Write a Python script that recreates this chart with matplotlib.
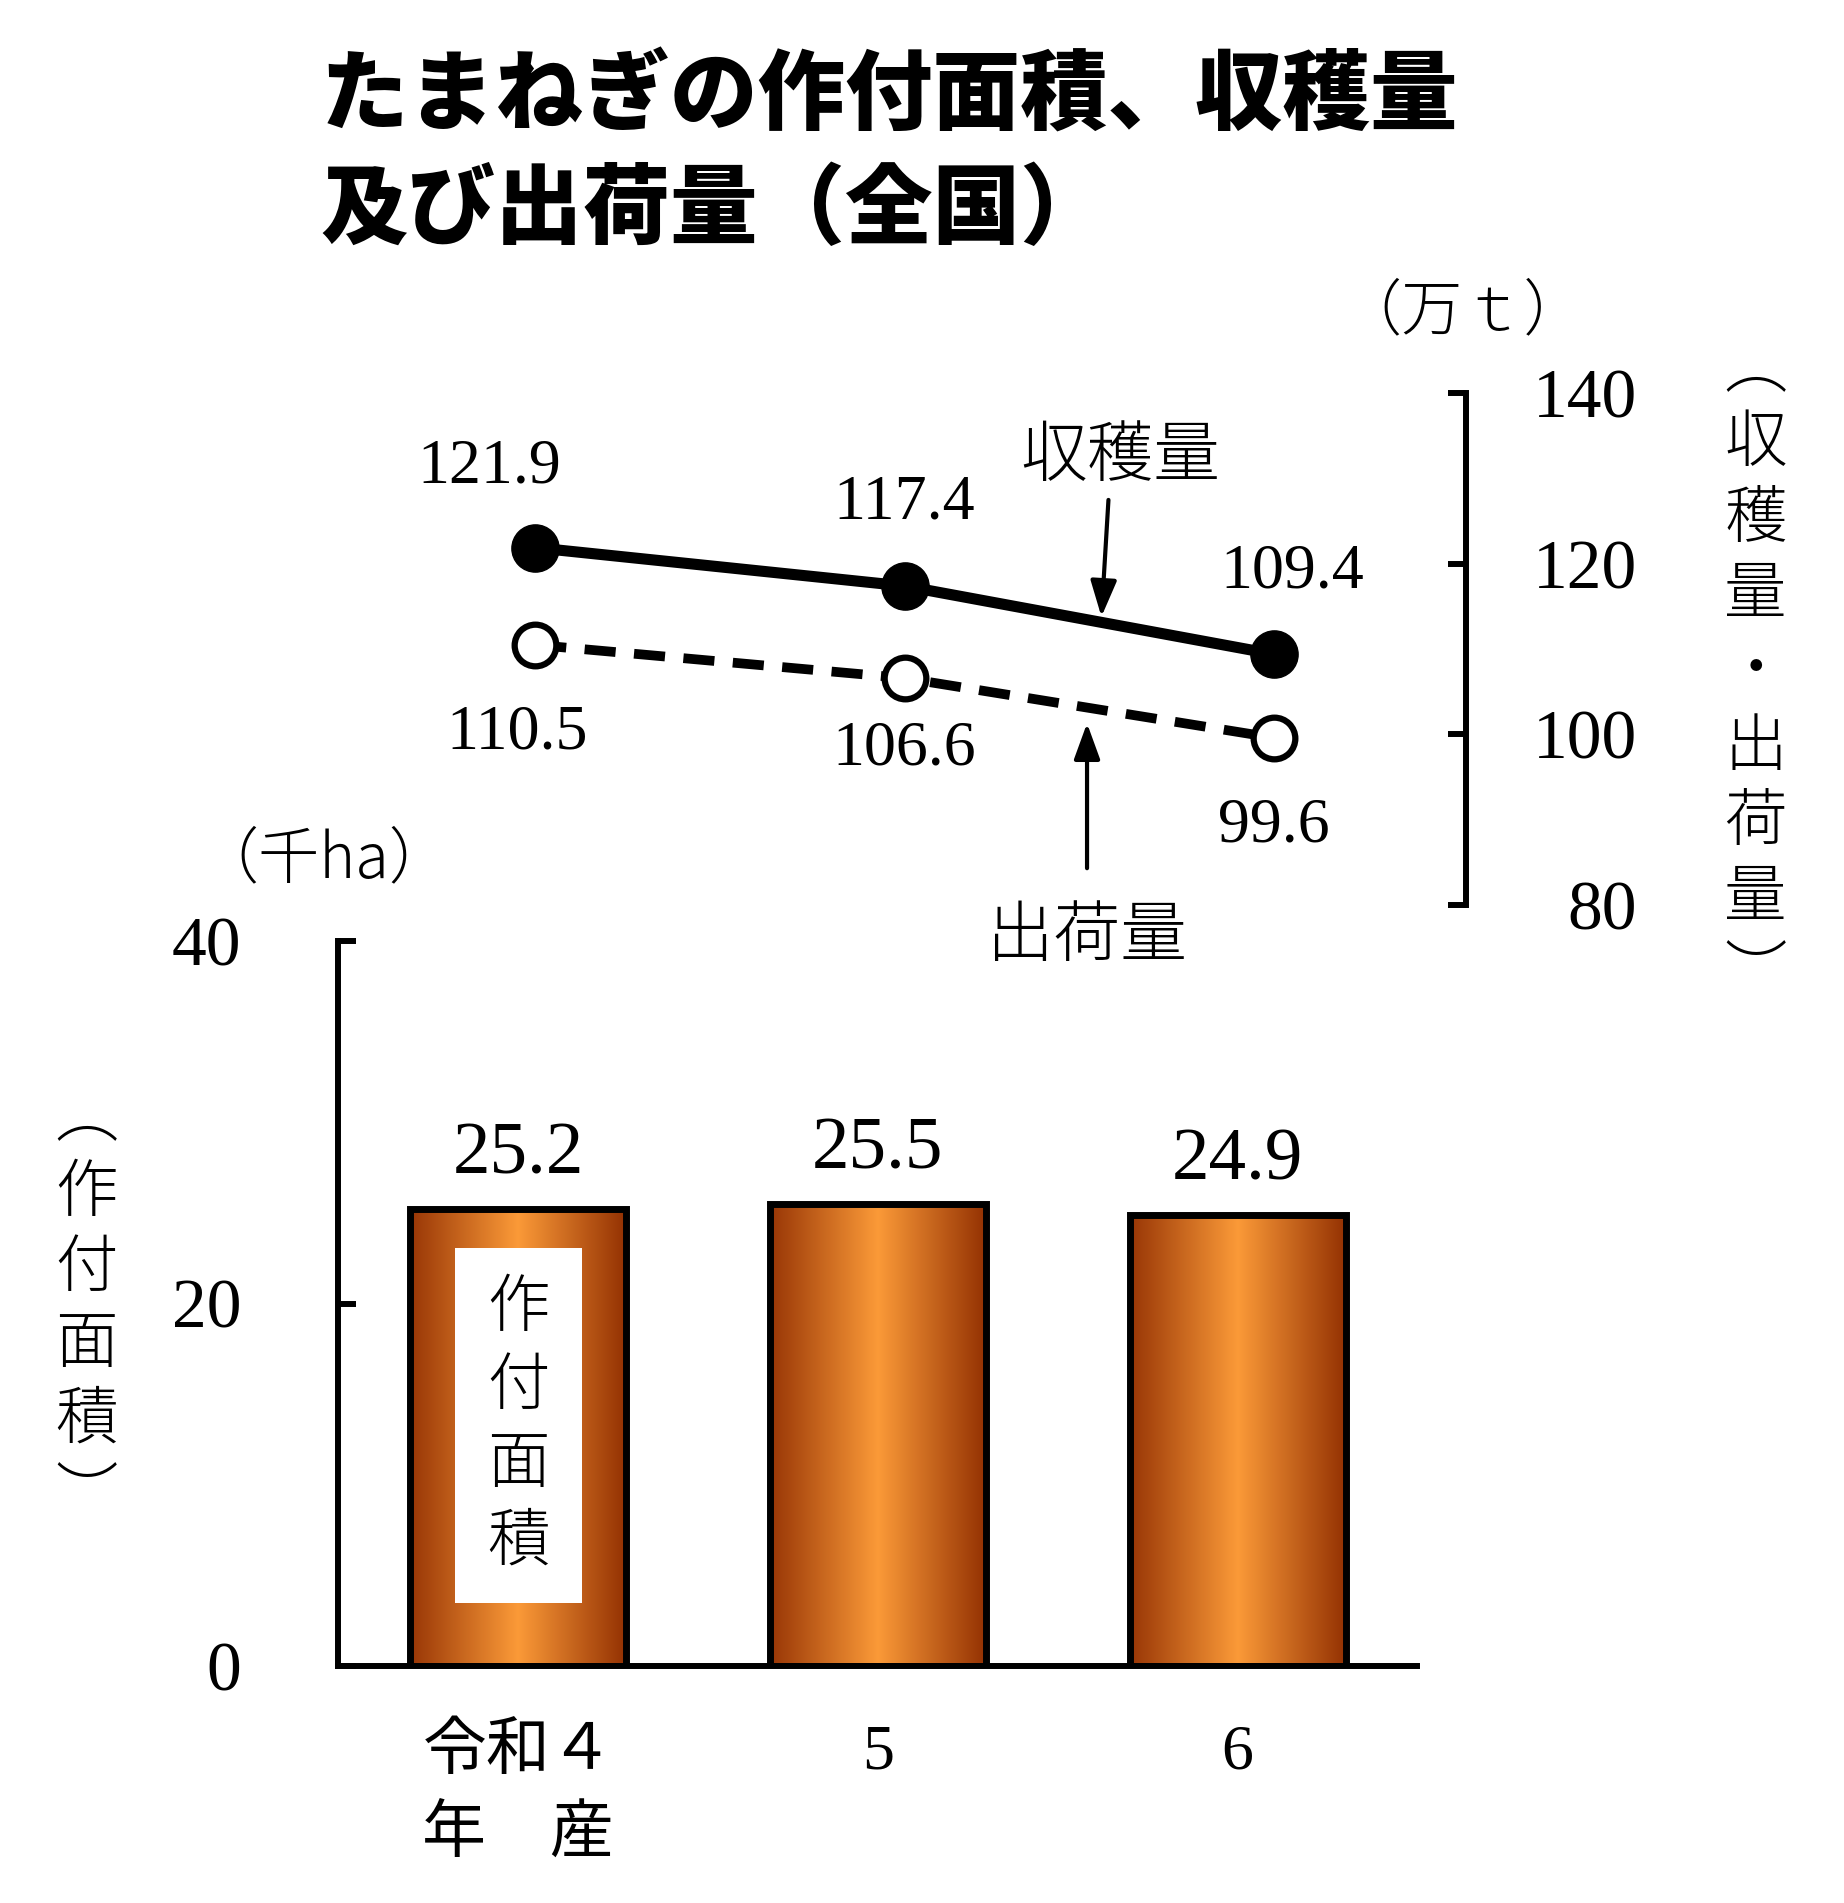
import numpy as np
import matplotlib
matplotlib.use("Agg")
import matplotlib.pyplot as plt
from matplotlib.colors import LinearSegmentedColormap

# ---------------- data ----------------
years = ["令和４\n年　産", "5", "6"]
area = [25.2, 25.5, 24.9]            # 作付面積 (千ha)
harvest = [121.9, 117.4, 109.4]      # 収穫量 (万t)
shipment = [110.5, 106.6, 99.6]      # 出荷量 (万t)
area_ticks = [0, 20, 40]
vol_ticks = [80, 100, 120, 140]

title = "たまねぎの作付面積、収穫量\n及び出荷量（全国）"

JP = ["Noto Sans CJK JP", "DejaVu Sans"]
NUM = ["Liberation Serif", "Noto Sans CJK JP"]
plt.rcParams["font.family"] = NUM

W, H = 1844, 1903
fig = plt.figure(figsize=(W / 100, H / 100), dpi=100)
fig.patch.set_facecolor("white")

LW_AX = 4.3

# ---------------- bar axes ----------------
ax1 = fig.add_axes([0.1835, 0.1245, 0.5852, 0.381])
ax1.set_facecolor("none")
x = np.arange(len(years))
bars = ax1.bar(x, area, width=0.6, facecolor="none", edgecolor="black",
               linewidth=5, zorder=3)
cmap = LinearSegmentedColormap.from_list(
    "copper_grad", [(0.0, "#983606"), (0.5, "#fb9a38"), (1.0, "#943203")])
grad = np.linspace(0, 1, 256).reshape(1, -1)
for i, b in enumerate(bars):
    bx, by = b.get_x(), b.get_y()
    bw, bh = b.get_width(), b.get_height()
    im = ax1.imshow(grad, cmap=cmap, aspect="auto",
                    extent=(bx, bx + bw, by, by + bh), zorder=2,
                    interpolation="bicubic")
    im.set_clip_path(b)
    ax1.text(bx + bw / 2, by + bh + 2.95, f"{area[i]:.1f}",
             ha="center", va="center", fontsize=54, family=NUM)

ax1.set_xlim(-0.5, 2.5)
ax1.set_ylim(0, 40)
for s in ["top", "right"]:
    ax1.spines[s].set_visible(False)
for s in ["left", "bottom"]:
    ax1.spines[s].set_linewidth(LW_AX)
ax1.set_yticks(area_ticks)
ax1.set_yticklabels([str(t) for t in area_ticks], fontsize=50, family=NUM)
ax1.tick_params(axis="y", direction="in", length=13, width=LW_AX, pad=70)
ax1.set_xticks(x)
ax1.set_xticklabels(years, fontsize=46, family=NUM + ["Noto Sans CJK JP"],
                    linespacing=1.55)
ax1.tick_params(axis="x", length=0, pad=42)

# white label box inside first bar
b0 = bars[0]
cx = b0.get_x() + b0.get_width() / 2
ax1.add_patch(plt.Rectangle((cx - 0.176, 3.48), 0.352, 19.57,
                            facecolor="white", edgecolor="none", zorder=4))
ax1.text(cx, 13.25, "作\n付\n面\n積", ha="center", va="center", fontsize=45,
         family=JP, weight="light", linespacing=1.28, zorder=5)

# ---------------- line axes ----------------
ax2 = fig.add_axes([0.1835, 0.5245, 0.6115, 0.2688])
ax2.set_facecolor("none")
ax2.plot(x, harvest, color="black", lw=8, marker="o", markersize=34,
         markerfacecolor="black", markeredgecolor="black", zorder=3)
ax2.plot(x, shipment, color="black", lw=7, linestyle=(0, (3.2, 1.9)),
         marker="o", markersize=30, markerfacecolor="white",
         markeredgecolor="black", markeredgewidth=4.5, zorder=3)

h_off = [(-0.124, 9.4), (0.0, 9.7), (0.05, 9.6)]
s_off = [(-0.05, -10.4), (0.0, -8.4), (0.0, -10.4)]
for i in range(len(x)):
    ax2.text(x[i] + h_off[i][0], harvest[i] + h_off[i][1], f"{harvest[i]:.1f}",
             ha="center", va="center", fontsize=46, family=NUM)
    ax2.text(x[i] + s_off[i][0], shipment[i] + s_off[i][1], f"{shipment[i]:.1f}",
             ha="center", va="center", fontsize=46, family=NUM)

ax2.set_xlim(-0.533, 2.52)
ax2.set_ylim(80, 140)
for s in ["top", "left", "bottom"]:
    ax2.spines[s].set_visible(False)
ax2.spines["right"].set_linewidth(LW_AX)
ax2.yaxis.tick_right()
ax2.set_xticks([])
ax2.set_yticks(vol_ticks)
ax2.set_yticklabels([str(t) for t in vol_ticks], fontsize=50, family=NUM,
                    ha="right")
ax2.tick_params(axis="y", direction="in", length=13, width=LW_AX, pad=123)

# annotations with arrows
arrow_style = "-|>,head_length=2.2,head_width=0.8"
ax2.annotate("", xy=(1.533, 113.8), xytext=(1.552, 127.5),
             arrowprops=dict(arrowstyle=arrow_style, lw=3, color="black",
                             shrinkA=0, shrinkB=0),
             annotation_clip=False)
ax2.text(1.583, 132.5, "収穫量", ha="center", va="center", fontsize=48,
         family=JP, weight="light", clip_on=False)
ax2.annotate("", xy=(1.494, 101.3), xytext=(1.494, 84.3),
             arrowprops=dict(arrowstyle=arrow_style, lw=3, color="black",
                             shrinkA=0, shrinkB=0),
             annotation_clip=False)
ax2.text(1.494, 76.2, "出荷量", ha="center", va="center", fontsize=48,
         family=JP, weight="light", clip_on=False)

# ---------------- titles & unit labels ----------------
fig.text(0.1737, 0.919, title, ha="left", va="center", fontsize=63,
         family=JP, weight="heavy", linespacing=1.36)
fig.text(0.793, 0.836, "（万ｔ）", ha="center", va="center", fontsize=44,
         family=JP, weight="light")
fig.text(0.1756, 0.548, "（千ha）", ha="center", va="center", fontsize=44,
         family=JP, weight="light")
fig.text(0.047, 0.313, "︵\n作\n付\n面\n積\n︶", ha="center", va="center",
         fontsize=45, family=JP, weight="light", linespacing=1.24)
fig.text(0.952, 0.647, "︵\n収\n穫\n量\n・\n出\n荷\n量\n︶", ha="center",
         va="center", fontsize=45, family=JP, weight="light", linespacing=1.24)

fig.savefig("out.png", dpi=100, facecolor="white")
